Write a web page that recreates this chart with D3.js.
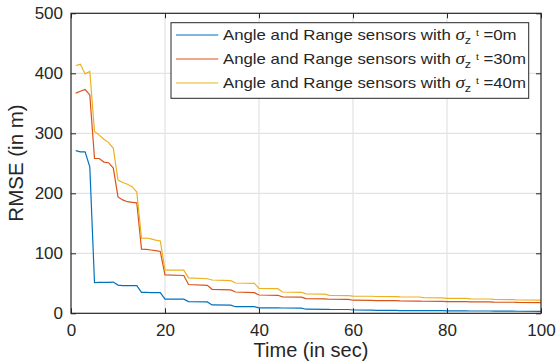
<!DOCTYPE html>
<html>
<head>
<meta charset="utf-8">
<script src="https://cdn.jsdelivr.net/npm/d3@7"></script>
<style>
  html, body { margin: 0; padding: 0; background: #fff; }
  svg { display: block; }
  text { font-family: "Liberation Sans", Arial, Helvetica, sans-serif; fill: #262626; }
</style>
</head>
<body>
<div id="chart"></div>
<script>
// sample times (sec) shared by the three series
const times = [1,2,3,4,5,6,7,8,9,10,11,12,13,14,15,16,17,18,19,20,
  24,25,29,30,34,35,39,40,44,45,49,50,54,55,59,60,64,65,69,70,74,75,79,80,84,85,89,90,94,95,100];

const rmse0 = [271,269,269,244,51,51.5,51.5,51.5,52,47,46,46,46,46,35,35,34.5,34.5,34.5,23.5,
  23.5,19.5,19,14,13.5,11,11,9.2,9,8.8,8.6,6.8,6.7,6.4,6.3,5.5,5.4,5,5,4.6,4.6,4.3,4.3,4,4,3.8,3.8,3.6,3.6,3.4,3.3];

const rmse30 = [367,370,373,364,258,258,252,251,242,194,189,186,185,184,107,106.5,105.5,104.5,103,64,
  63,48,46.5,40,39,35.5,34.5,30.5,30,27.5,27,24.5,24.2,23.4,23.2,21.8,21.6,21.2,21,20.6,20.4,20.1,19.9,19.6,19.4,19.1,18.9,18.6,18.4,18.1,17.9];

const rmse40 = [413,415,399,403,303,297,290,284.5,275,222,218,215,211,202,125,125.5,124,122,120.5,72,
  72,59,57.6,55.5,54.5,50.5,50,41.5,41,35.5,35,32.3,32,29.8,29.5,28.6,28.4,28,27.8,27.4,27.2,26,25.8,25,24.8,24,23.8,23.1,22.9,22.2,22];

const seriesNames = ["=0m", "=30m", "=40m"];
const seriesColors = ["#0072BD", "#D95319", "#EDB120"];
const xTicks = [0, 20, 40, 60, 80, 100];
const yTicks = [0, 100, 200, 300, 400, 500];

const width = 557, height = 362;
const margin = { top: 13.3, right: 16, bottom: 48.7, left: 71 };
const innerW = width - margin.left - margin.right;
const innerH = height - margin.top - margin.bottom;

const svg = d3.select("#chart").append("svg")
  .attr("width", width).attr("height", height);
const g = svg.append("g").attr("transform", `translate(${margin.left},${margin.top})`);

const x = d3.scaleLinear().domain([0, 100]).range([0, innerW]);
const y = d3.scaleLinear().domain([0, 500]).range([innerH, 0]);

// grid
g.selectAll("line.vgrid").data(xTicks.slice(1, -1)).enter().append("line")
  .attr("x1", d => x(d)).attr("x2", d => x(d)).attr("y1", 0).attr("y2", innerH)
  .attr("stroke", "#e3e3e3").attr("stroke-width", 1.2);
g.selectAll("line.hgrid").data(yTicks.slice(1, -1)).enter().append("line")
  .attr("y1", d => y(d)).attr("y2", d => y(d)).attr("x1", 0).attr("x2", innerW)
  .attr("stroke", "#e3e3e3").attr("stroke-width", 1.2);

// data lines
const allSeries = [rmse0, rmse30, rmse40];
const line = d3.line().x(d => x(d[0])).y(d => y(d[1]));
allSeries.forEach((vals, i) => {
  g.append("path")
    .datum(times.map((t, k) => [t, vals[k]]))
    .attr("fill", "none")
    .attr("stroke", seriesColors[i])
    .attr("stroke-width", 1.2)
    .attr("d", line);
});

// axes (box with inward ticks on all four sides)
const axisColor = "#262626";
function styleAxis(sel) {
  sel.select(".domain").remove();
  sel.selectAll(".tick line").attr("stroke", axisColor).attr("stroke-width", 1);
  sel.selectAll(".tick text").attr("fill", axisColor)
    .style("font-size", "17px")
    .style("font-family", "'Liberation Sans', Arial, Helvetica, sans-serif");
}
g.append("g").attr("transform", `translate(0,${innerH})`)
  .call(d3.axisBottom(x).tickValues(xTicks).tickSize(-5).tickPadding(11))
  .call(styleAxis);
g.append("g")
  .call(d3.axisTop(x).tickValues(xTicks).tickSize(-5).tickFormat(""))
  .call(styleAxis);
g.append("g")
  .call(d3.axisLeft(y).tickValues(yTicks).tickSize(-5).tickPadding(8))
  .call(styleAxis);
g.append("g").attr("transform", `translate(${innerW},0)`)
  .call(d3.axisRight(y).tickValues(yTicks).tickSize(-5).tickFormat(""))
  .call(styleAxis);

g.append("rect")
  .attr("width", innerW).attr("height", innerH)
  .attr("fill", "none").attr("stroke", axisColor).attr("stroke-width", 1.2);

// axis labels
svg.append("text")
  .attr("x", 311).attr("y", 357)
  .attr("text-anchor", "middle")
  .style("font-size", "20px")
  .text("Time (in sec)");
svg.append("text")
  .attr("transform", `translate(23,163) rotate(-90)`)
  .attr("text-anchor", "middle")
  .style("font-size", "20.5px")
  .text("RMSE (in m)");

// legend
const legend = svg.append("g");
legend.append("rect")
  .attr("x", 171).attr("y", 22.7).attr("width", 357.7).attr("height", 75.6)
  .attr("fill", "#fff").attr("stroke", axisColor).attr("stroke-width", 1);

const rowY = [35, 59, 83];
seriesNames.forEach((name, i) => {
  legend.append("line")
    .attr("x1", 176).attr("x2", 218.3)
    .attr("y1", rowY[i]).attr("y2", rowY[i])
    .attr("stroke", seriesColors[i]).attr("stroke-width", 1.2);
  const t = legend.append("text")
    .attr("transform", `translate(223,${rowY[i] + 4.5}) scale(1.2,1)`)
    .style("font-size", "14px");
  t.append("tspan").text("Angle and Range sensors with ");
  t.append("tspan")
    .style("font-family", "'Liberation Serif', 'Times New Roman', serif")
    .style("font-style", "italic").style("font-size", "16px")
    .text("σ");
  t.append("tspan").attr("dy", 4).style("font-size", "10.5px").text("z");
  t.append("tspan").attr("dx", 4).attr("dy", -8).style("font-size", "8.5px").text("t");
  t.append("tspan").attr("dy", 4).text(" " + name);
});
</script>
</body>
</html>
